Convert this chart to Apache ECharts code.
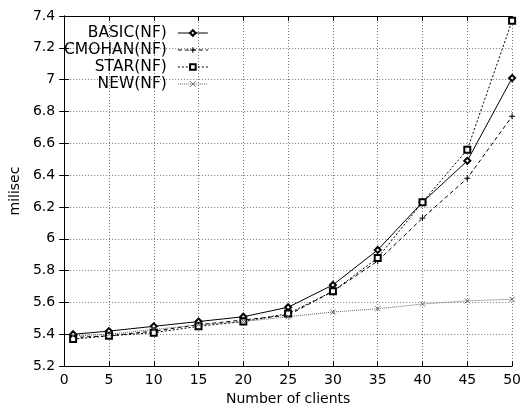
<!DOCTYPE html>
<html>
<head>
<meta charset="utf-8">
<script src="https://cdn.jsdelivr.net/npm/echarts@6/dist/echarts.min.js"></script>
<style>
  html, body { margin: 0; padding: 0; background: #fff; }
  #chart { width: 524px; height: 411px; }
</style>
</head>
<body>
<div id="chart"></div>
<script>
// number of clients
var clients = [1, 5, 10, 15, 20, 25, 30, 35, 40, 45, 50];

// milisec
var basic  = [5.40, 5.42, 5.45, 5.48, 5.51, 5.57, 5.71, 5.93, 6.23, 6.49, 7.01];
var cmohan = [5.38, 5.39, 5.42, 5.46, 5.49, 5.52, 5.67, 5.86, 6.13, 6.38, 6.77];
var star   = [5.37, 5.39, 5.41, 5.45, 5.48, 5.53, 5.67, 5.88, 6.23, 6.56, 7.37];
var newNf  = [5.39, 5.40, 5.43, 5.46, 5.48, 5.51, 5.54, 5.56, 5.59, 5.61, 5.62];

var names = ['BASIC(NF)', 'CMOHAN(NF)', 'STAR(NF)', 'NEW(NF)'];

var FONT = 'DejaVu Sans';
var plusPath = 'path://M0,5L10,5M5,0L5,10';
var crossPath = 'path://M0,0L10,10M10,0L0,10';

function pairs(ys) {
    return clients.map(function (x, i) { return [x, ys[i]]; });
}

function mkSeries(name, ys, symbol, size, lineType, color) {
    return {
        name: name,
        type: 'line',
        data: pairs(ys),
        symbol: symbol,
        symbolSize: size,
        showAllSymbol: true,
        lineStyle: { color: color, width: 1, type: lineType },
        itemStyle: { color: color, borderColor: color, borderWidth: 1 },
        emphasis: { disabled: true },
        animation: false
    };
}

var chart = echarts.init(document.getElementById('chart'));

var option = {
    animation: false,
    grid: { left: 58, right: 10, top: 16, bottom: 39 },
    legend: {
        orient: 'vertical',
        left: 64,
        top: 25,
        padding: 0,
        align: 'right',
        itemWidth: 30,
        itemHeight: 7,
        itemGap: 1,
        data: names,
        lineStyle: { width: 1 },
        itemStyle: { borderWidth: 1 },
        textStyle: { fontFamily: FONT, fontSize: 15.5, color: '#000', padding: [0, 6, 0, 0] },
        selectedMode: false
    },
    xAxis: [{
        type: 'value',
        min: 0, max: 50, interval: 5,
        name: 'Number of clients',
        nameLocation: 'middle',
        nameGap: 23,
        nameTextStyle: { fontFamily: FONT, fontSize: 14, color: '#000' },
        axisLine: { lineStyle: { color: '#000', width: 1 } },
        axisTick: { inside: true, length: 5, lineStyle: { color: '#000' } },
        axisLabel: { fontFamily: FONT, fontSize: 14, color: '#000', margin: 7 },
        splitLine: { show: true, lineStyle: { color: '#777', type: [1, 2], width: 1 } }
    }, {
        type: 'value',
        position: 'top',
        min: 0, max: 50, interval: 5,
        axisLine: { lineStyle: { color: '#000', width: 1 } },
        axisTick: { inside: true, length: 5, lineStyle: { color: '#000' } },
        axisLabel: { show: false },
        splitLine: { show: false }
    }],
    yAxis: [{
        type: 'value',
        min: 5.2, max: 7.4, interval: 0.2,
        name: 'milisec',
        nameLocation: 'middle',
        nameGap: 40,
        nameTextStyle: { fontFamily: FONT, fontSize: 14, color: '#000' },
        axisLine: { show: true, lineStyle: { color: '#000', width: 1 } },
        axisTick: { show: true, inside: true, length: 5, lineStyle: { color: '#000' } },
        axisLabel: {
            fontFamily: FONT, fontSize: 14, color: '#000', margin: 9,
            formatter: function (v) { return String(Math.round(v * 10) / 10); }
        },
        splitLine: { show: true, lineStyle: { color: '#777', type: [1, 2], width: 1 } }
    }, {
        type: 'value',
        position: 'right',
        min: 5.2, max: 7.4, interval: 0.2,
        axisLine: { show: true, lineStyle: { color: '#000', width: 1 } },
        axisTick: { show: true, inside: true, length: 5, lineStyle: { color: '#000' } },
        axisLabel: { show: false },
        splitLine: { show: false }
    }],
    series: [
        mkSeries(names[0], basic, 'emptyDiamond', 6, 'solid', '#000'),
        mkSeries(names[1], cmohan, plusPath, 6, [4, 3], '#000'),
        mkSeries(names[2], star, 'emptyRect', 6, [2, 2], '#000'),
        mkSeries(names[3], newNf, crossPath, 5, [1, 1], '#666')
    ]
};

chart.setOption(option);
</script>
</body>
</html>
